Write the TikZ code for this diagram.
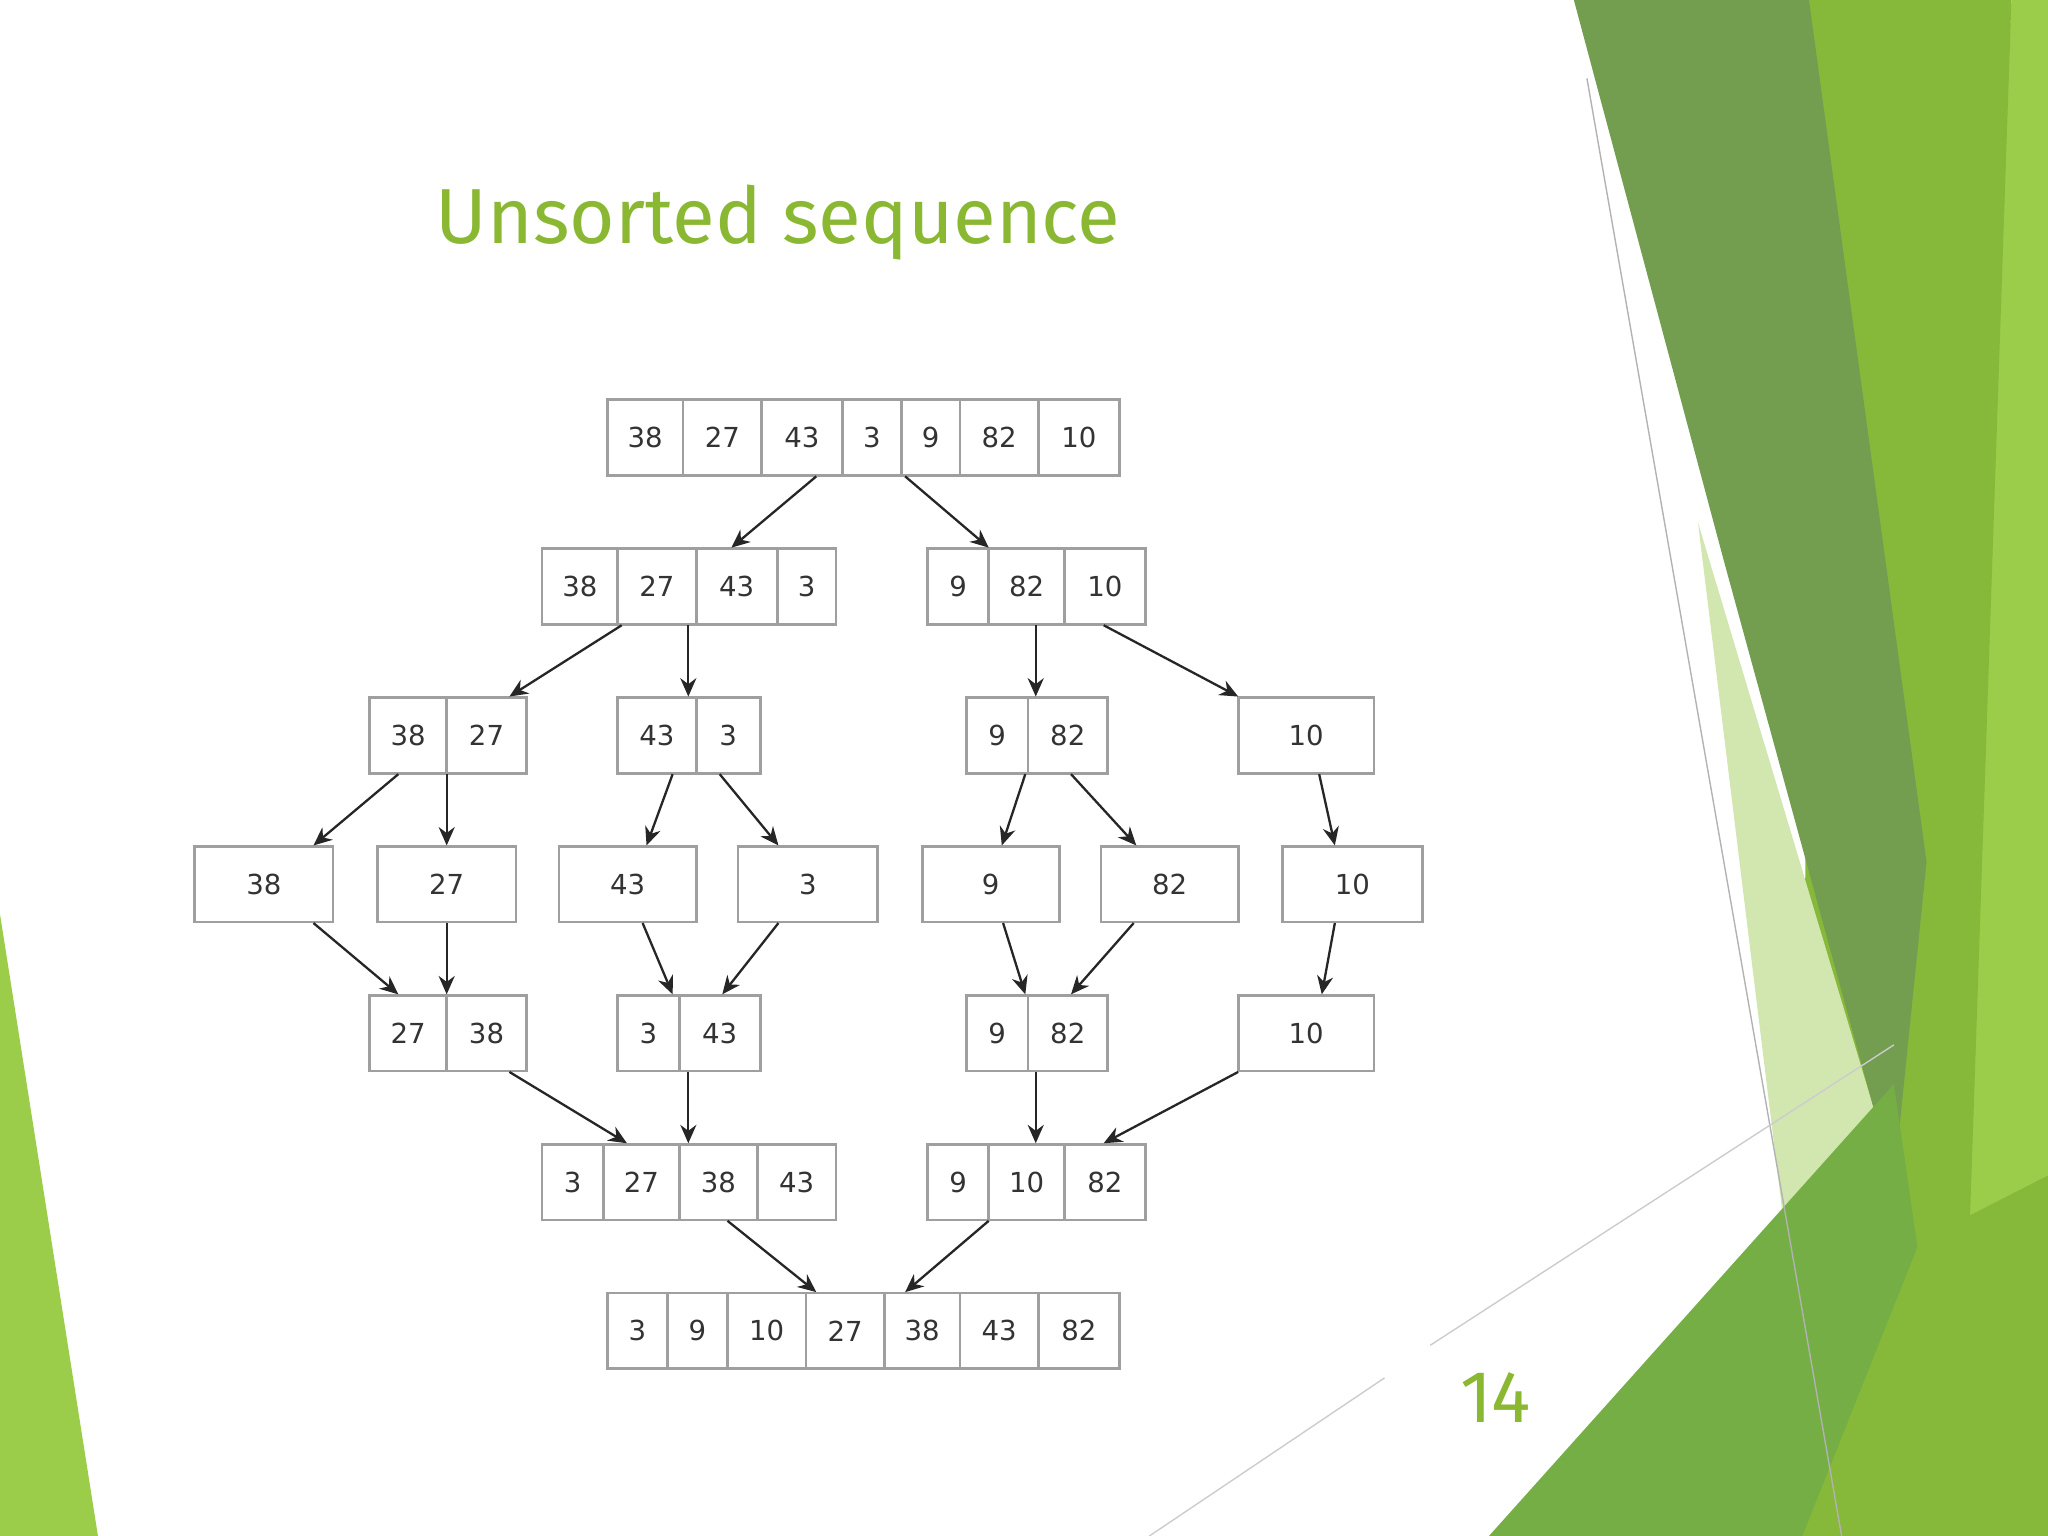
\documentclass[tikz,border=0pt]{standalone}
\usepackage{fontspec}
\setmainfont{DejaVu Sans}
\newfontfamily\titlefont{Fira Sans}
\usetikzlibrary{fit,arrows.meta}
\definecolor{tgreen}{HTML}{8AB833}
\definecolor{dkgreen}{HTML}{739D4F}
\definecolor{brgreen}{HTML}{86B83A}
\definecolor{ltgreen}{HTML}{9CCD4A}
\definecolor{pale}{HTML}{D2E6B0}
\definecolor{midgreen}{HTML}{74AE45}
\tikzset{
 cell/.style={draw=gray!75, line width=0.6pt, fill=white},
 txt/.style={font=\fontsize{6}{7}\selectfont, text=black!80},
 arr/.style={-{Stealth[length=4pt,width=3.5pt]}, line width=0.5pt, draw=black!85},
 grpbox/.style={inner sep=0pt}
}
\newcommand\grp[5]{%
 \foreach \v/\xr [remember=\xr as \prevx (initially #3)] in {#5}{%
  \draw[cell] (\prevx,#2-29) rectangle (\xr,#2+29);
  \node[txt] at ({(\prevx+\xr)/2},#2) {\v};
 }%
 \node[grpbox, fit={(#3,#2-29) (#4,#2+29)}] (#1) {};
}
\newcommand\ar[4]{\draw[arr] (#1.south -| #2,0) -- (#3.north -| #4,0);}
\begin{document}
\begin{tikzpicture}[x=0.01cm,y=-0.01cm]
\useasboundingbox (0,0) rectangle (1568,1176);
\fill[white] (0,0) rectangle (1568,1176);
% background shapes
\fill[ltgreen] (1540,0) -- (1568,0) -- (1568,1176) -- (1480,1176) -- cycle;
\fill[brgreen] (1385,0) -- (1540,0) -- (1500,1176) -- (1380,1176) -- cycle;
\fill[pale] (1300,400) -- (1450,900) -- (1420,1176) -- (1395,1176) -- cycle;
\fill[dkgreen] (1205,0) -- (1385,0) -- (1475,660) -- (1450,905) -- (1320,430) -- cycle;
\fill[midgreen] (1140,1176) -- (1450,830) -- (1500,1176) -- cycle;
\fill[brgreen] (1380,1176) -- (1470,950) -- (1568,900) -- (1568,1176) -- cycle;
\fill[ltgreen] (0,700) -- (75,1176) -- (0,1176) -- cycle;
\draw[gray!60, line width=0.3pt] (1215,60) -- (1410,1176);
\draw[gray!40, line width=0.3pt] (1095,1030) -- (1450,800);
\draw[gray!40, line width=0.3pt] (880,1176) -- (1060,1055);
% title and page number
\node[font=\titlefont\fontsize{17}{20}\selectfont, text=tgreen, anchor=west, inner sep=0pt] (title) at (333,170) {Unsorted sequence};
\node[font=\titlefont\fontsize{16}{18}\selectfont, text=tgreen] (pg) at (1145,1070) {14};
% rows
\grp{r1}{335}{465}{857}{38/523,27/583,43/645,3/690,9/735,82/795,10/857}
\grp{r2a}{449}{415}{640}{38/473,27/533,43/595,3/640}
\grp{r2b}{449}{710}{877}{9/757,82/815,10/877}
\grp{r3a}{563}{283}{403}{38/342,27/403}
\grp{r3b}{563}{473}{582}{43/533,3/582}
\grp{r3c}{563}{740}{848}{9/787,82/848}
\grp{r3d}{563}{948}{1052}{10/1052}
\grp{s1}{677}{149}{255}{38/255}
\grp{s2}{677}{289}{395}{27/395}
\grp{s3}{677}{428}{533}{43/533}
\grp{s4}{677}{565}{672}{3/672}
\grp{s5}{677}{706}{811}{9/811}
\grp{s6}{677}{843}{948}{82/948}
\grp{s7}{677}{982}{1089}{10/1089}
\grp{r5a}{791}{283}{403}{27/342,38/403}
\grp{r5b}{791}{473}{582}{3/520,43/582}
\grp{r5c}{791}{740}{848}{9/787,82/848}
\grp{r5d}{791}{948}{1052}{10/1052}
\grp{r6a}{905}{415}{640}{3/462,27/520,38/580,43/640}
\grp{r6b}{905}{710}{877}{9/757,10/815,82/877}
\grp{r7}{1019}{465}{857}{3/511,9/557,10/617,27/677,38/735,43/795,82/857}
% arrows
\ar{r1}{625}{r2a}{560}
\ar{r1}{693}{r2b}{757}
\ar{r2a}{476}{r3a}{390}
\ar{r2a}{527}{r3b}{527}
\ar{r2b}{793}{r3c}{793}
\ar{r2b}{845}{r3d}{948}
\ar{r3a}{305}{s1}{240}
\ar{r3a}{342}{s2}{342}
\ar{r3b}{515}{s3}{495}
\ar{r3b}{551}{s4}{596}
\ar{r3c}{785}{s5}{767}
\ar{r3c}{820}{s6}{870}
\ar{r3d}{1010}{s7}{1022}
\ar{s1}{240}{r5a}{305}
\ar{s2}{342}{r5a}{342}
\ar{s3}{492}{r5b}{515}
\ar{s4}{596}{r5b}{553}
\ar{s5}{768}{r5c}{785}
\ar{s6}{868}{r5c}{820}
\ar{s7}{1022}{r5d}{1012}
\ar{r5a}{390}{r6a}{480}
\ar{r5b}{527}{r6a}{527}
\ar{r5c}{793}{r6b}{793}
\ar{r5d}{948}{r6b}{845}
\ar{r6a}{557}{r7}{625}
\ar{r6b}{757}{r7}{693}
\end{tikzpicture}
\end{document}
